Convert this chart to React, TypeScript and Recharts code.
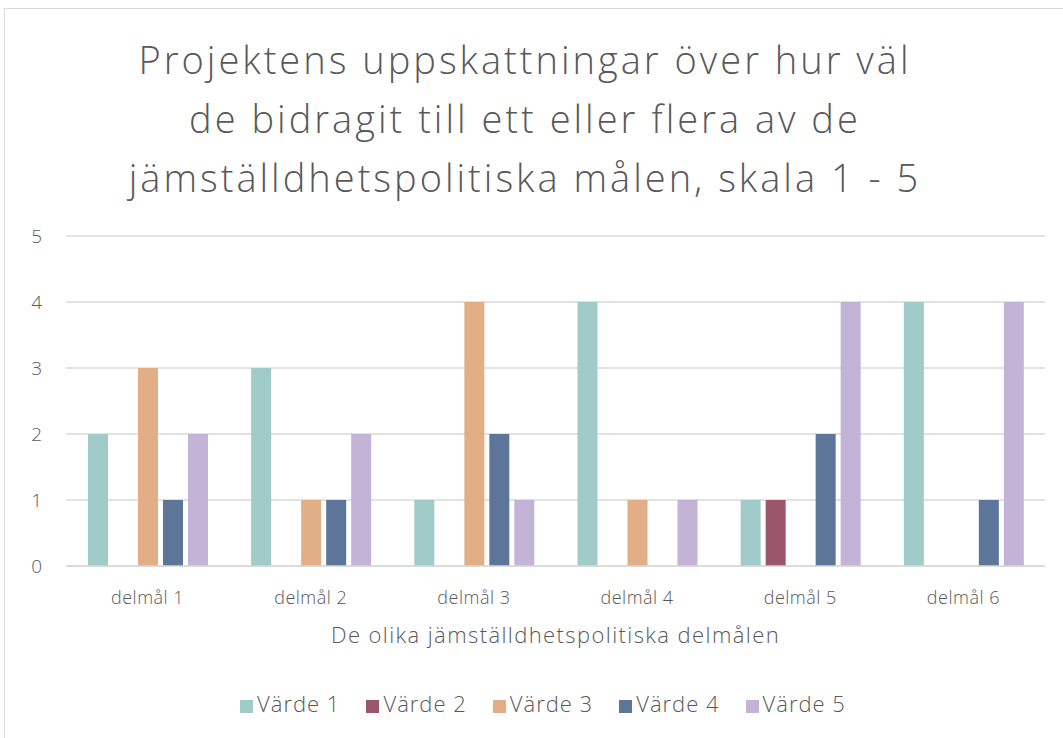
import { BarChart, Bar, XAxis, YAxis, CartesianGrid, Legend } from 'recharts'

const categories = ['delmål 1', 'delmål 2', 'delmål 3', 'delmål 4', 'delmål 5', 'delmål 6']
const varde1 = [2, 3, 1, 4, 1, 4]
const varde2 = [0, 0, 0, 0, 1, 0]
const varde3 = [3, 1, 4, 1, 0, 0]
const varde4 = [1, 1, 2, 0, 2, 1]
const varde5 = [2, 2, 1, 1, 4, 4]
const yTicks = [0, 1, 2, 3, 4, 5]

const series = [
  { key: 'v1', name: 'Värde 1', color: '#a0cbc9', values: varde1 },
  { key: 'v2', name: 'Värde 2', color: '#9b566c', values: varde2 },
  { key: 'v3', name: 'Värde 3', color: '#e1ae86', values: varde3 },
  { key: 'v4', name: 'Värde 4', color: '#5d7599', values: varde4 },
  { key: 'v5', name: 'Värde 5', color: '#c3b3d7', values: varde5 },
]

const data = categories.map((c, i) => {
  const row: any = { name: c }
  series.forEach(s => { row[s.key] = s.values[i] })
  return row
})

const font = '"Open Sans", Lato, sans-serif'
const grey = '#595959'

export default function App() {
  return (
    <div style={{ position: 'absolute', left: 0, top: 0, width: 1063, height: 738, background: '#fff', fontFamily: font }}>
      <div style={{ position: 'absolute', left: 4, top: 8, width: 1070, height: 740, border: '1px solid #d9d9d9', boxSizing: 'border-box' }} />
      <div style={{ position: 'absolute', left: 0, top: 30, width: 1050, textAlign: 'center', fontSize: 38, fontWeight: 300, lineHeight: '59px', letterSpacing: 3, color: grey }}>
        Projektens uppskattningar över hur väl<br />
        de bidragit till ett eller flera av de<br />
        jämställdhetspolitiska målen, skala 1 - 5
      </div>
      <div style={{ position: 'absolute', left: 0, top: 0 }}>
        <BarChart width={1063} height={738} data={data} barSize={20} barGap={5}
          margin={{ top: 206, right: 18, bottom: 142, left: 0 }}>
          <CartesianGrid vertical={false} stroke="#d9d9d9" strokeWidth={1.5} />
          <XAxis dataKey="name" axisLine={{ stroke: '#d9d9d9', strokeWidth: 1.5 }} tickLine={false}
            tickMargin={19} tick={{ fill: grey, fontSize: 18, fontFamily: font, fontWeight: 300, style: { letterSpacing: 0.5 } }}
            label={{ value: 'De olika jämställdhetspolitiska delmålen', position: 'insideBottom', offset: -47, fill: grey, fontSize: 22, fontFamily: font, fontWeight: 300, style: { letterSpacing: 1.4 } }} />
          <YAxis width={66} domain={[0, 5]} ticks={yTicks} axisLine={false} tickLine={false} tickSize={0}
            tickMargin={24} tick={{ fill: grey, fontSize: 19, fontFamily: font, fontWeight: 300 }} />
          <Legend verticalAlign="top" align="center" iconType="square" iconSize={13}
            wrapperStyle={{ top: 688, left: 0, width: 1112, fontSize: 22, fontFamily: font, fontWeight: 300, letterSpacing: 1 }}
            formatter={(v: string) => <span style={{ color: grey, marginRight: 16 }}>{v}</span>} />
          {series.map(s => (
            <Bar key={s.key} dataKey={s.key} name={s.name} fill={s.color} isAnimationActive={false} />
          ))}
        </BarChart>
      </div>
    </div>
  )
}
